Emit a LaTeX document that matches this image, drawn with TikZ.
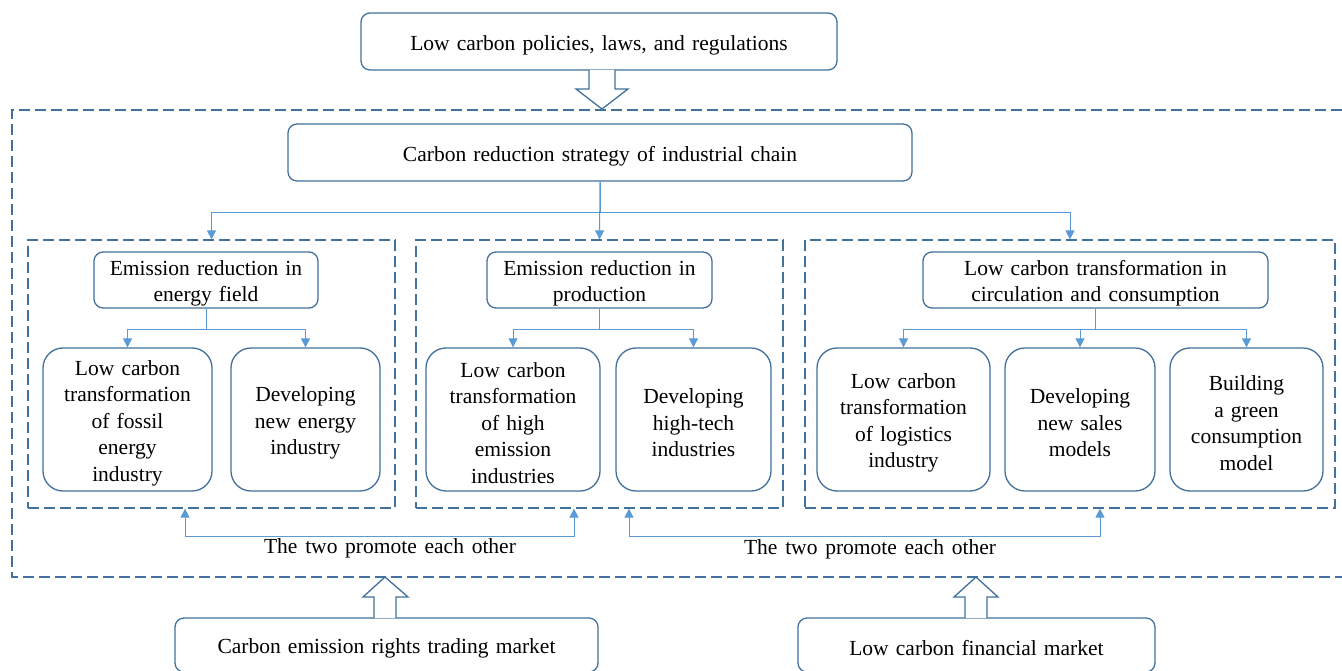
\documentclass[tikz,border=0pt]{standalone}
\usepackage{fontspec}
\setmainfont{Liberation Serif}
\newfontfamily\timesfont{Liberation Serif}
\usetikzlibrary{arrows.meta}
\definecolor{boxline}{HTML}{41719C}
\definecolor{linkline}{HTML}{5B9BD5}
\newcommand{\boxfont}{\timesfont\fontsize{21.5}{26.5}\selectfont\spaceskip=0.36em}

\begin{document}
\begin{tikzpicture}[x=1pt,y=-1pt]
    % Define styles
    \tikzstyle{plain} = [rectangle, rounded corners=9pt, draw=boxline, line width=1.3pt, fill=white,
                         inner sep=0pt, align=center, minimum height=57pt, font=\boxfont,
                         execute at begin node={\rule{0pt}{22pt}}]
    \tikzstyle{leaf} = [plain, rounded corners=20pt, minimum height=143pt]
    \tikzstyle{group} = [draw=boxline, line width=1.2pt, dash pattern=on 11pt off 5pt]
    \tikzstyle{link} = [draw=linkline, line width=1pt, -{Triangle[width=9pt,length=9pt]}]
    \tikzstyle{both} = [link, {Triangle[width=9pt,length=9pt]}-{Triangle[width=9pt,length=9pt]}]
    \tikzstyle{hollow} = [draw=boxline, line width=1.3pt, fill=white, line join=miter]

    \useasboundingbox (0,0) rectangle (1342,671);

    % Outer frame, open on the right
    \draw[group] (1342,110) -- (12,110) -- (12,577) -- (1342,577);

    % Nodes positioned absolutely
    \node[plain, text width=476pt] (policy) at (599,41.5) {Low carbon policies, laws, and regulations};
    \node[plain, text width=624pt] (strategy) at (600,152.5) {Carbon reduction strategy of industrial chain};

    \node[group, minimum width=367pt, minimum height=268pt] (grp1) at (211.5,374) {};
    \node[group, minimum width=367pt, minimum height=268pt] (grp2) at (599.5,374) {};
    \node[group, minimum width=530pt, minimum height=268pt] (grp3) at (1070,374) {};

    \node[plain, text width=224pt, minimum height=56pt] (energy) at (206,280) {Emission reduction in\\energy field};
    \node[plain, text width=225pt, minimum height=56pt] (production) at (599.5,280) {Emission reduction in\\production};
    \node[plain, text width=345pt, minimum height=56pt] (circulation) at (1095.5,280) {Low carbon transformation in\\circulation and consumption};

    \node[leaf, text width=169pt] (fossil) at (127.5,419.5) {Low carbon\\transformation\\of fossil\\energy\\industry};
    \node[leaf, text width=149pt] (newenergy) at (305.5,419.5) {Developing\\new energy\\industry};
    \node[leaf, text width=174pt] (highemission) at (513,419.5) {Low carbon\\transformation\\of high\\emission\\industries};
    \node[leaf, text width=155pt] (hightech) at (693.5,419.5) {Developing\\high-tech\\industries};
    \node[leaf, text width=173pt] (logistics) at (903.5,419.5) {Low carbon\\transformation\\of logistics\\industry};
    \node[leaf, text width=150pt] (sales) at (1080,419.5) {Developing\\new sales\\models};
    \node[leaf, text width=153pt] (green) at (1246.5,419.5) {Building\\a green\\consumption\\model};

    \node[font=\boxfont] (promote1) at (390,548) {The two promote each other};
    \node[font=\boxfont] (promote2) at (870,549) {The two promote each other};

    \node[plain, text width=423pt, minimum height=54pt] (trading) at (386.5,645) {Carbon emission rights trading market};
    \node[plain, text width=357pt, minimum height=54pt] (finance) at (976.5,645) {Low carbon financial market};

    % Arrows
    \draw[link] (strategy.south) -- ++(0,31) -| (grp1.north);
    \draw[link] (strategy.south) -- (grp2.north);
    \draw[link] (strategy.south) -- ++(0,31) -| (grp3.north);

    \draw[link] (energy.south) -- ++(0,21) -| (fossil.north);
    \draw[link] (energy.south) -- ++(0,21) -| (newenergy.north);
    \draw[link] (production.south) -- ++(0,21) -| (highemission.north);
    \draw[link] (production.south) -- ++(0,21) -| (hightech.north);
    \draw[link] (circulation.south) -- ++(0,21) -| (logistics.north);
    \draw[link] (circulation.south) -- ++(0,21) -| (sales.north);
    \draw[link] (circulation.south) -- ++(0,21) -| (green.north);

    \draw[both] ([xshift=-26.5pt]grp1.south) -- ++(0,28) -| ([xshift=-25.5pt]grp2.south);
    \draw[both] ([xshift=29.5pt]grp2.south) -- ++(0,28) -| ([xshift=30pt]grp3.south);

    % Hollow block arrows
    \draw[hollow] (589,70) -- (589,89) -- (576,89) -- (602,109) -- (628,89) -- (615,89) -- (615,70);
    \draw[hollow] (374,618) -- (374,597) -- (363,597) -- (385,577) -- (408,597) -- (396,597) -- (396,618);
    \draw[hollow] (965,618) -- (965,597) -- (954,597) -- (976,577) -- (998,597) -- (987,597) -- (987,618);
\end{tikzpicture}
\end{document}
